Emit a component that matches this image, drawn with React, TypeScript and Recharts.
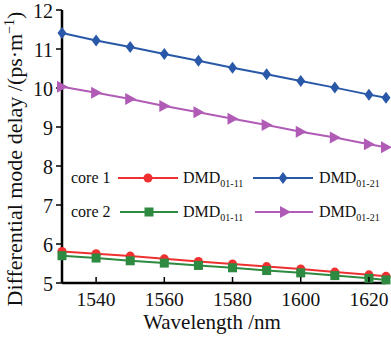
import { LineChart, Line, XAxis, YAxis } from 'recharts';

const wavelengths = [1530, 1540, 1550, 1560, 1570, 1580, 1590, 1600, 1610, 1620, 1625];
const core1Dmd11 = [5.81, 5.75, 5.69, 5.62, 5.55, 5.49, 5.42, 5.36, 5.28, 5.21, 5.17];
const core1Dmd21 = [11.41, 11.22, 11.05, 10.87, 10.7, 10.52, 10.35, 10.18, 10.01, 9.83, 9.75];
const core2Dmd11 = [5.7, 5.64, 5.57, 5.51, 5.45, 5.39, 5.32, 5.26, 5.19, 5.12, 5.08];
const core2Dmd21 = [10.03, 9.88, 9.72, 9.54, 9.38, 9.21, 9.05, 8.88, 8.73, 8.56, 8.48];

const xTicks = [1540, 1560, 1580, 1600, 1620];
const yTicks = [5, 6, 7, 8, 9, 10, 11, 12];

const data = wavelengths.map((w, i) => ({
    w,
    c1a: core1Dmd11[i],
    c1b: core1Dmd21[i],
    c2a: core2Dmd11[i],
    c2b: core2Dmd21[i],
}));

const RED = '#ee3030';
const BLUE = '#2a58a8';
const GREEN = '#2e8a40';
const PURPLE = '#b05cb6';
const FONT = 'Liberation Serif';

const circle = (cx: number, cy: number, c: string, key?: any) => (
    <circle key={key} cx={cx} cy={cy} r={4.5} fill={c} />
);
const square = (cx: number, cy: number, c: string, key?: any) => (
    <rect key={key} x={cx - 4.5} y={cy - 4.5} width={9} height={9} fill={c} />
);
const diamond = (cx: number, cy: number, c: string, key?: any) => (
    <polygon key={key} points={`${cx},${cy - 6} ${cx + 4.5},${cy} ${cx},${cy + 6} ${cx - 4.5},${cy}`} fill={c} />
);
const triangle = (cx: number, cy: number, c: string, key?: any) => (
    <polygon key={key} points={`${cx - 5},${cy - 6} ${cx + 6},${cy} ${cx - 5},${cy + 6}`} fill={c} />
);

const dot = (shape: typeof circle, c: string) => (props: any) =>
    shape(props.cx, props.cy, c, props.key ?? props.index);

// x ticks point inwards, label below
const XTick = (props: any) => {
    const { x, y, payload } = props;
    return (
        <g>
            <line x1={x} y1={y - 1} x2={x} y2={y - 6} stroke="#000" strokeWidth={1.5} />
            <text x={x} y={y + 23} textAnchor="middle" fontFamily={FONT} fontSize={19.5} fill="#111">
                {payload.value}
            </text>
        </g>
    );
};

const YTick = (props: any) => {
    const { x, y, payload } = props;
    return (
        <text x={x} y={y + 8} textAnchor="end" fontFamily={FONT} fontSize={20} fill="#111">
            {payload.value}
        </text>
    );
};

const Sub = ({ x, y, sub }: { x: number; y: number; sub: string }) => (
    <text x={x} y={y} fontFamily={FONT} fontSize={16} fill="#111">
        DMD
        <tspan fontSize={10} dy={4}>{sub}</tspan>
    </text>
);

const LegendBox = () => (
    <svg width={320} height={70} style={{ position: 'absolute', left: 62, top: 160 }}>
        <text x={9} y={23} fontFamily={FONT} fontSize={16} fill="#111">core 1</text>
        <line x1={56} y1={18} x2={116} y2={18} stroke={RED} strokeWidth={2} />
        {circle(86, 18, RED)}
        <Sub x={121} y={23} sub="01-11" />
        <line x1={191} y1={18} x2={251} y2={18} stroke={BLUE} strokeWidth={2} />
        {diamond(221, 18, BLUE)}
        <Sub x={257} y={23} sub="01-21" />

        <text x={9} y={57} fontFamily={FONT} fontSize={16} fill="#111">core 2</text>
        <line x1={58} y1={52} x2={116} y2={52} stroke={GREEN} strokeWidth={2} />
        {square(87, 52, GREEN)}
        <Sub x={121} y={57} sub="01-11" />
        <line x1={193} y1={52} x2={251} y2={52} stroke={PURPLE} strokeWidth={2} />
        {triangle(223, 52, PURPLE)}
        <Sub x={257} y={57} sub="01-21" />
    </svg>
);

const YLabel = () => (
    <text
        x={22}
        y={159}
        transform="rotate(-90 22 159)"
        textAnchor="middle"
        fontFamily={FONT}
        fontSize={22}
        fill="#111"
    >
        Differential mode delay /(ps·m
        <tspan fontSize={14} dy={-8}>−1</tspan>
        <tspan dy={8}>)</tspan>
    </text>
);

const XLabel = () => (
    <text x={212} y={329} textAnchor="middle" fontFamily={FONT} fontSize={21} fill="#111">
        Wavelength /nm
    </text>
);

export default function App() {
    return (
        <div style={{ position: 'absolute', left: 0, top: 0, width: 391, height: 337, background: '#fff' }}>
            <LineChart
                width={391}
                height={337}
                data={data}
                margin={{ top: 10, right: 5, left: 0, bottom: 0 }}
            >
                <XAxis
                    dataKey="w"
                    type="number"
                    domain={[1530, 1625]}
                    ticks={xTicks}
                    height={54}
                    tickSize={0}
                    tickMargin={0}
                    tickLine={false}
                    tick={<XTick />}
                    axisLine={{ stroke: '#000', strokeWidth: 2.5 }}
                    label={<XLabel />}
                />
                <XAxis
                    xAxisId="top"
                    dataKey="w"
                    type="number"
                    domain={[1530, 1625]}
                    orientation="top"
                    height={0}
                    tick={false}
                    tickLine={false}
                    axisLine={{ stroke: '#000', strokeWidth: 2.5 }}
                />
                <YAxis
                    type="number"
                    domain={[5, 12]}
                    ticks={yTicks}
                    width={62}
                    tickSize={6}
                    tickMargin={3}
                    tickLine={{ stroke: '#000', strokeWidth: 1.5 }}
                    tick={<YTick />}
                    axisLine={{ stroke: '#000', strokeWidth: 2.5 }}
                    label={<YLabel />}
                />
                <YAxis
                    yAxisId="right"
                    orientation="right"
                    domain={[5, 12]}
                    width={0}
                    tick={false}
                    tickLine={false}
                    axisLine={{ stroke: '#000', strokeWidth: 2.5 }}
                />
                <Line dataKey="c1a" stroke={RED} strokeWidth={2} dot={dot(circle, RED)} isAnimationActive={false} />
                <Line dataKey="c1b" stroke={BLUE} strokeWidth={2} dot={dot(diamond, BLUE)} isAnimationActive={false} />
                <Line dataKey="c2a" stroke={GREEN} strokeWidth={2} dot={dot(square, GREEN)} isAnimationActive={false} />
                <Line dataKey="c2b" stroke={PURPLE} strokeWidth={2} dot={dot(triangle, PURPLE)} isAnimationActive={false} />
            </LineChart>
            <LegendBox />
        </div>
    );
}
